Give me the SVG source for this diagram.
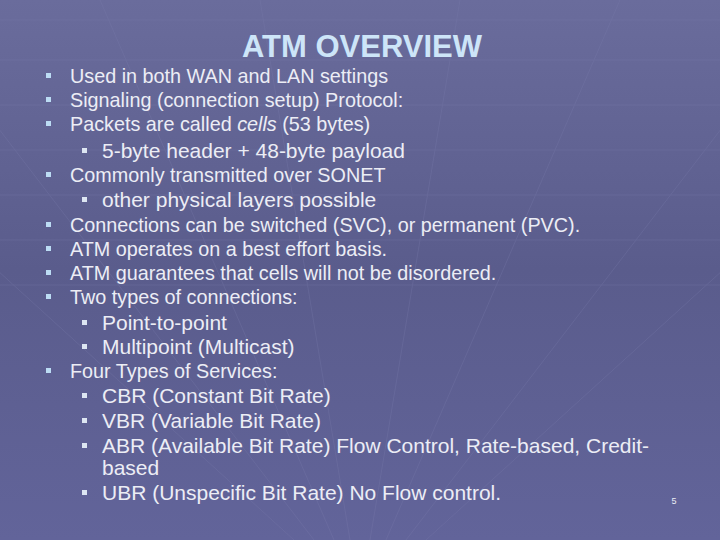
<svg xmlns="http://www.w3.org/2000/svg" width="720" height="540" viewBox="0 0 720 540">
<defs>
<linearGradient id="bg" x1="0" y1="0" x2="0" y2="1">
<stop offset="0" stop-color="#6a6c9c"/><stop offset="0.5" stop-color="#5a5c8c"/><stop offset="1" stop-color="#62649a"/>
</linearGradient>
<style>
.m{font-family:"Liberation Sans",Arial,sans-serif;font-size:19.8px;fill:#ecedf5}
.s{font-family:"Liberation Sans",Arial,sans-serif;font-size:21px;fill:#ecedf5}
.b{fill:#bcdcf4}
.sb{fill:#dde6f2}
.g{stroke:#7a7cac;stroke-width:1;opacity:0.3;fill:none}
</style>
</defs>
<rect width="720" height="540" fill="url(#bg)"/>
<g class="g">
<path d="M0 20H720M0 60H720M0 105H720M0 150H720M0 195H720M0 240H720M0 285H720"/>
<path d="M360 600L-300 0M360 600L-100 0M360 600L100 0M360 600L260 0M360 600L460 0M360 600L620 0M360 600L820 0M360 600L1020 0"/>
</g>
<text x="362" y="57" text-anchor="middle" font-family="Liberation Sans,Arial,sans-serif" font-weight="bold" font-size="31" fill="#cde5f8">ATM OVERVIEW</text>
<g>
<rect class="b" x="46" y="73" width="5" height="5"/><text class="m" x="70" y="83">Used in both WAN and LAN settings</text>
<rect class="b" x="46" y="97" width="5" height="5"/><text class="m" x="70" y="107">Signaling (connection setup) Protocol:</text>
<rect class="b" x="46" y="121" width="5" height="5"/><text class="m" x="70" y="131">Packets are called <tspan font-style="italic">cells</tspan> (53 bytes)</text>
<rect class="sb" x="82" y="148" width="5" height="5"/><text class="s" x="102" y="158">5-byte header + 48-byte payload</text>
<rect class="b" x="46" y="172" width="5" height="5"/><text class="m" x="70" y="182">Commonly transmitted over SONET</text>
<rect class="sb" x="82" y="197" width="5" height="5"/><text class="s" x="102" y="207">other physical layers possible</text>
<rect class="b" x="46" y="222" width="5" height="5"/><text class="m" x="70" y="232">Connections can be switched (SVC),  or permanent (PVC).</text>
<rect class="b" x="46" y="246" width="5" height="5"/><text class="m" x="70" y="256">ATM operates on a best effort basis.</text>
<rect class="b" x="46" y="270" width="5" height="5"/><text class="m" x="70" y="280">ATM guarantees that cells will not be disordered.</text>
<rect class="b" x="46" y="294" width="5" height="5"/><text class="m" x="70" y="304">Two types of connections:</text>
<rect class="sb" x="82" y="320" width="5" height="5"/><text class="s" x="102" y="330">Point-to-point</text>
<rect class="sb" x="82" y="344" width="5" height="5"/><text class="s" x="102" y="354">Multipoint (Multicast)</text>
<rect class="b" x="46" y="368" width="5" height="5"/><text class="m" x="70" y="378">Four Types of Services:</text>
<rect class="sb" x="82" y="393" width="5" height="5"/><text class="s" x="102" y="403">CBR (Constant Bit Rate)</text>
<rect class="sb" x="82" y="418" width="5" height="5"/><text class="s" x="102" y="428">VBR (Variable Bit Rate)</text>
<rect class="sb" x="82" y="443" width="5" height="5"/><text class="s" x="102" y="453">ABR (Available Bit Rate) Flow Control, Rate-based, Credit-</text>
<text class="s" x="102" y="475">based</text>
<rect class="sb" x="82" y="490" width="5" height="5"/><text class="s" x="102" y="500">UBR (Unspecific Bit Rate) No Flow control.</text>
<text x="674" y="504" text-anchor="middle" font-family="Liberation Sans,Arial,sans-serif" font-size="9" fill="#ecedf5">5</text>
</g>
</svg>
